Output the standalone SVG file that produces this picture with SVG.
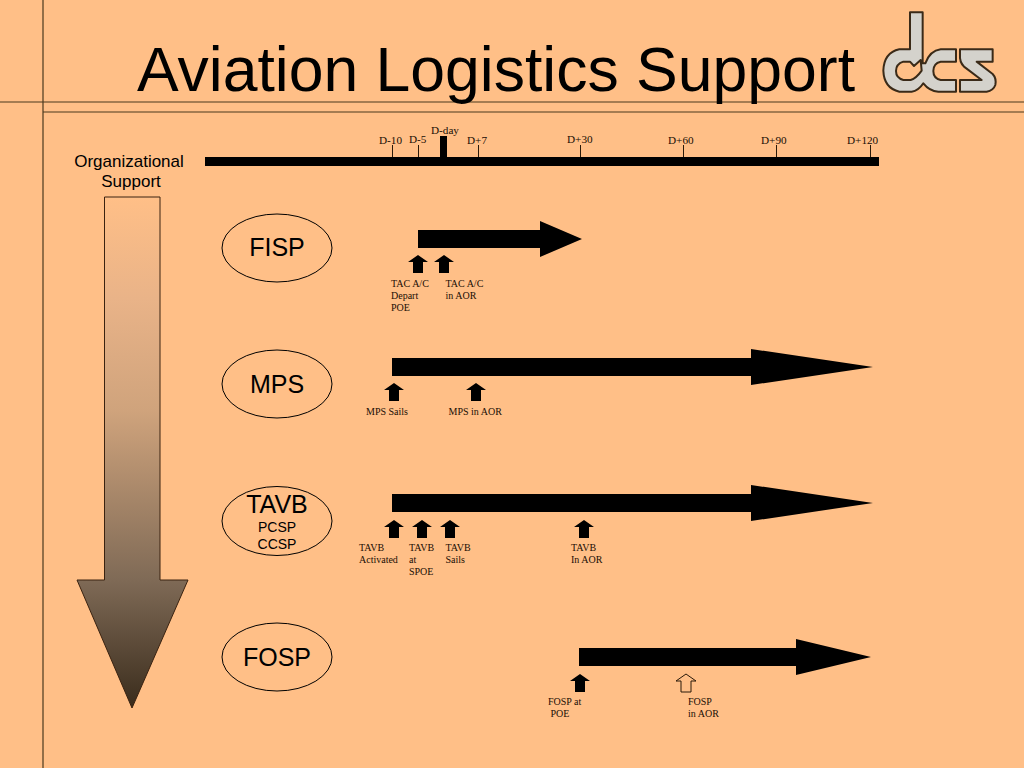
<svg xmlns="http://www.w3.org/2000/svg" width="1024" height="768" viewBox="0 0 1024 768">
<style>
.rule{stroke:#4a3a1e;stroke-width:1.2;fill:none}
.tick{stroke:#2a1a0a;stroke-width:1;fill:none}
.t{font-family:"Liberation Serif","Times New Roman",serif;fill:#1a0e05}
.s{font-size:10px}
.d{font-size:11.2px}
.a{font-family:"Liberation Sans",Arial,sans-serif;fill:#000;text-anchor:middle}
.node{fill:none;stroke:#000;stroke-width:1}
.blk{fill:#000}
</style>
<defs>
<linearGradient id="g" gradientUnits="userSpaceOnUse" x1="0" y1="197" x2="0" y2="708">
<stop offset="0" stop-color="#ffbf87"/>
<stop offset="0.2" stop-color="#e9b388"/>
<stop offset="0.42" stop-color="#cfa37c"/>
<stop offset="0.75" stop-color="#7f6a56"/>
<stop offset="1" stop-color="#3a2c1c"/>
</linearGradient>
<path id="up" d="M0 0L10 7H5V18H-5V7H-10Z"/>
</defs>
<rect width="1024" height="768" fill="#ffbf87"/>
<g id="frame">
<line class="rule" x1="0" y1="102" x2="1024" y2="102"/>
<line class="rule" x1="43" y1="112" x2="1024" y2="112"/>
<line class="rule" x1="43" y1="0" x2="43" y2="768" stroke="#3a1a10"/>
</g>
<text x="137" y="91" font-family="Liberation Sans,Arial,sans-serif" font-size="62.500" fill="#000">Aviation Logistics Support</text>
<g id="logo" transform="translate(870 0) scale(.3333)" fill="#d4d2cc" stroke="#3a2a18" stroke-width="6" stroke-linejoin="round">
<path fill-rule="evenodd" d="M120 37H158V190H166Q180 152 212 148H258V185H212Q190 190 190 213Q190 235 212 240H258V275H205Q178 273 160 250Q145 273 125 275H88Q42 265 40 212Q42 158 88 148H120ZM120 185H100Q78 192 78 213Q78 234 100 240H122Q138 236 155 212L152 180L132 198Z"/>
<path d="M270 148H368V185H320L368 222Q380 235 376 255Q370 272 350 275H270V240H335L282 200Q268 185 270 165Z"/>
</g>
<g id="timeline">
<rect class="blk" x="205" y="157" width="674" height="9"/>
<rect class="blk" x="440" y="136" width="7" height="21"/>
<path class="tick" d="M392.500 145V157M418.500 145V157M478.500 145V157M580.500 145V157M683.500 145V157M776.500 145V157M870.500 145V157"/>
<text class="t d" x="379" y="144">D-10</text>
<text class="t d" x="409" y="143">D-5</text>
<text class="t d" x="431" y="134">D-day</text>
<text class="t d" x="467" y="144">D+7</text>
<text class="t d" x="567" y="143">D+30</text>
<text class="t d" x="668" y="144">D+60</text>
<text class="t d" x="761" y="144">D+90</text>
<text class="t d" x="847" y="144">D+120</text>
</g>
<g id="org-support">
<text class="a" x="129" y="167" font-size="17">Organizational</text>
<text class="a" x="131" y="187" font-size="17">Support</text>
<path d="M104.500 197H160V580H188L132 708L77 580H104.500Z" fill="url(#g)" stroke="#3a2210" stroke-width="1"/>
</g>
<g id="fisp">
<ellipse class="node" cx="277" cy="248" rx="55" ry="34"/>
<text class="a" x="277" y="256" font-size="25">FISP</text>
</g>
<g id="mps">
<ellipse class="node" cx="277" cy="384" rx="55" ry="34"/>
<text class="a" x="277" y="393" font-size="25">MPS</text>
</g>
<g id="tavb">
<ellipse class="node" cx="277" cy="521" rx="55" ry="34.500"/>
<text class="a" x="277" y="513" font-size="25">TAVB</text>
<text class="a" x="277" y="532" font-size="14">PCSP</text>
<text class="a" x="277" y="549" font-size="14">CCSP</text>
</g>
<g id="fosp">
<ellipse class="node" cx="277" cy="657" rx="55" ry="34"/>
<text class="a" x="277" y="666" font-size="25">FOSP</text>
</g>
<g id="connectors">
<path class="blk" d="M418 230H540V221L582 239L540 257V248H418Z"/>
<path class="blk" d="M392 358H751V349L873 367L751 385V376H392Z"/>
<path class="blk" d="M392 494H751V485L873 503L751 521V512H392Z"/>
<path class="blk" d="M579 648H796V639L871 657L796 675V666H579Z"/>
<use href="#up" x="418" y="255"/>
<use href="#up" x="444" y="255"/>
<use href="#up" x="394" y="383"/>
<use href="#up" x="476" y="383"/>
<use href="#up" x="394" y="520"/>
<use href="#up" x="422" y="520"/>
<use href="#up" x="450" y="520"/>
<use href="#up" x="584" y="520"/>
<use href="#up" x="580" y="674"/>
<use href="#up" x="686" y="674" fill="#ffbf87" stroke="#2a1a0a" stroke-width="1"/>
</g>
<g id="labels">
<text class="t s" x="391" y="287">TAC A/C</text>
<text class="t s" x="391" y="299">Depart</text>
<text class="t s" x="391" y="311">POE</text>
<text class="t s" x="445.500" y="287">TAC A/C</text>
<text class="t s" x="445.500" y="299">in AOR</text>
<text class="t s" x="366" y="415">MPS Sails</text>
<text class="t s" x="448.500" y="415">MPS in AOR</text>
<text class="t s" x="359" y="551">TAVB</text>
<text class="t s" x="359" y="563">Activated</text>
<text class="t s" x="409" y="551">TAVB</text>
<text class="t s" x="409" y="563">at</text>
<text class="t s" x="409" y="575">SPOE</text>
<text class="t s" x="445.500" y="551">TAVB</text>
<text class="t s" x="445.500" y="563">Sails</text>
<text class="t s" x="571" y="551">TAVB</text>
<text class="t s" x="571" y="563">In AOR</text>
<text class="t s" x="548" y="705">FOSP at</text>
<text class="t s" x="550.500" y="717">POE</text>
<text class="t s" x="688" y="705">FOSP</text>
<text class="t s" x="688" y="717">in AOR</text>
</g>
</svg>
